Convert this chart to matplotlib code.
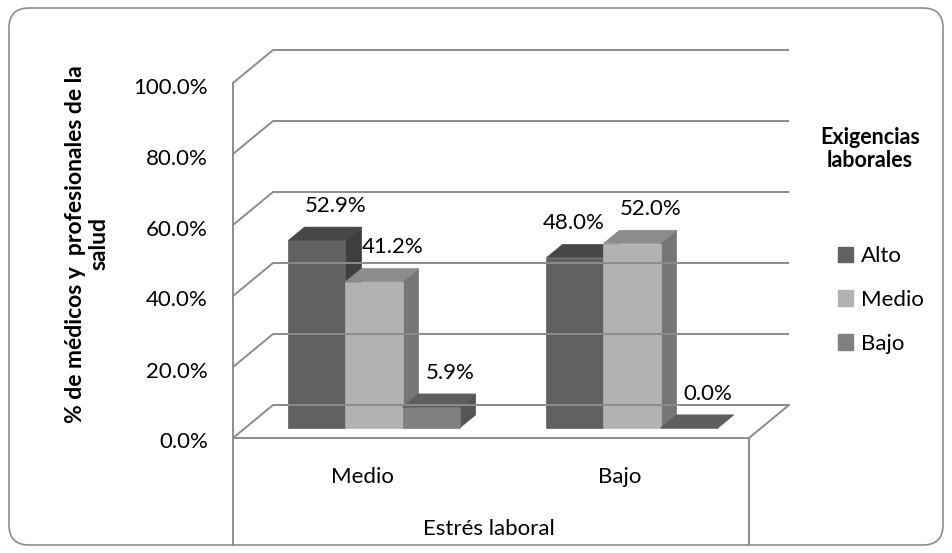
import matplotlib.pyplot as plt
from matplotlib.patches import Polygon, Patch, FancyBboxPatch
from matplotlib.transforms import IdentityTransform

# Data
categories = ["Medio", "Bajo"]
series = ["Alto", "Medio", "Bajo"]
alto = [52.9, 48.0]
medio = [41.2, 52.0]
bajo = [5.9, 0.0]
yticks = [0, 20, 40, 60, 80, 100]

# Face colours per series: front, top, side
front_cols = ["#616161", "#b2b2b2", "#808080"]
top_cols = ["#474747", "#8c8c8c", "#5e5e5e"]
side_cols = ["#3f3f3f", "#767676", "#555555"]
grid_col = "#8c8c8c"
font = "Lato"
fs = 16

# extra horizontal shift (px) for labels that would collide
label_shift = {(1, 0): -20}

W, H = 952, 553
fig = plt.figure(figsize=(W / 100, H / 100), dpi=100)
ax = fig.add_axes([0, 0, 1, 1])
ax.axis("off")

# map data units (category index, percent) onto the canvas
x0_px, px_per_cat = 362, 258
y0_px, px_per_pct = 438, 3.55
ax.set_xlim(-x0_px / px_per_cat, (W - x0_px) / px_per_cat)
ax.set_ylim(-(H - y0_px) / px_per_pct, y0_px / px_per_pct)

# oblique projection for the depth axis (z from 0 front to 1 back)
dx = 40 / px_per_cat
dy = 33 / px_per_pct


def proj(x, y, z):
    return (x + z * dx, y + z * dy)


x_left, x_right = -0.5, 1.5
lw = 1.4

# back wall, side wall and floor lines
for t in yticks:
    pts = [proj(x_left, t, 0), proj(x_left, t, 1), proj(x_right, t, 1)]
    ax.plot(*zip(*pts), color=grid_col, lw=lw, solid_capstyle="butt")
ax.plot(*zip(proj(x_left, 0, 0), proj(x_left, 100, 0)), color=grid_col, lw=lw)
floor = [proj(x_left, 0, 0), proj(x_right, 0, 0), proj(x_right, 0, 1)]
ax.plot(*zip(*floor), color=grid_col, lw=lw)
bottom = -(H - 8 - y0_px) / px_per_pct
for xe in (x_left, x_right):
    ax.plot([xe, xe], [0, bottom], color=grid_col, lw=lw)

# bars
bar_w = 0.221
z0, z1 = 0.3, 0.7
values = [alto, medio, bajo]
for i, cat in enumerate(categories):
    for j, vals in enumerate(values):
        v = vals[i]
        xl = i + (j - 1.5) * bar_w
        xr = xl + bar_w
        side = [proj(xr, 0, z0), proj(xr, v, z0), proj(xr, v, z1), proj(xr, 0, z1)]
        front = [proj(xl, 0, z0), proj(xr, 0, z0), proj(xr, v, z0), proj(xl, v, z0)]
        top = [proj(xl, v, z0), proj(xr, v, z0), proj(xr, v, z1), proj(xl, v, z1)]
        for poly, col in ((side, side_cols[j]), (front, front_cols[j]), (top, top_cols[j])):
            ax.add_patch(Polygon(poly, closed=True, fc=col, ec=col, lw=0.5))
        lx, ly = proj(xl + bar_w / 2, v, z0)
        shift = label_shift.get((i, j), 0)
        ax.annotate(f"{v:.1f}%", (lx, ly), xytext=(19 + shift, 28.5),
                    textcoords="offset pixels", ha="center", va="baseline",
                    fontsize=fs, family=font, color="black")

# y tick labels on the front wall
for t in yticks:
    tx, ty = proj(x_left, t, 0)
    ax.annotate(f"{t:.1f}%", (tx, ty), xytext=(-25, -10.5), textcoords="offset pixels",
                ha="right", va="baseline", fontsize=fs, family=font)

# category labels and axis title
for i, cat in enumerate(categories):
    ax.text(i, -12.7, cat, ha="center", va="baseline", fontsize=fs, family=font)
ax.text(0.49, -27.3, "Estrés laboral", ha="center", va="baseline", fontsize=fs, family=font)

fig.text(87 / W, 1 - 244 / H, "% de médicos y  profesionales de la\nsalud",
         rotation=90, ha="center", va="center", ma="center",
         fontsize=16.5, fontweight="bold", family=font, linespacing=1.15)

# legend
fig.text(870 / W, 1 - 149 / H, "Exigencias\nlaborales", ha="center", va="center",
         fontsize=15.5, fontweight="bold", family=font, linespacing=1.1)
handles = [Patch(fc=front_cols[j], ec=front_cols[j]) for j in range(3)]
fig.legend(handles, series, loc="upper left", bbox_to_anchor=(838 / W, 1 - 246 / H),
           frameon=False, prop={"family": font, "size": fs}, handlelength=0.68,
           handleheight=0.68, handletextpad=0.35, labelspacing=1.075, borderpad=0,
           borderaxespad=0)

# rounded outer frame
fig.add_artist(FancyBboxPatch((9, 8), W - 18, H - 16,
                              boxstyle="round,pad=0,rounding_size=20",
                              transform=IdentityTransform(), fill=False,
                              ec="#8c8c8c", lw=1.2))

fig.savefig("out.png", dpi=100)
